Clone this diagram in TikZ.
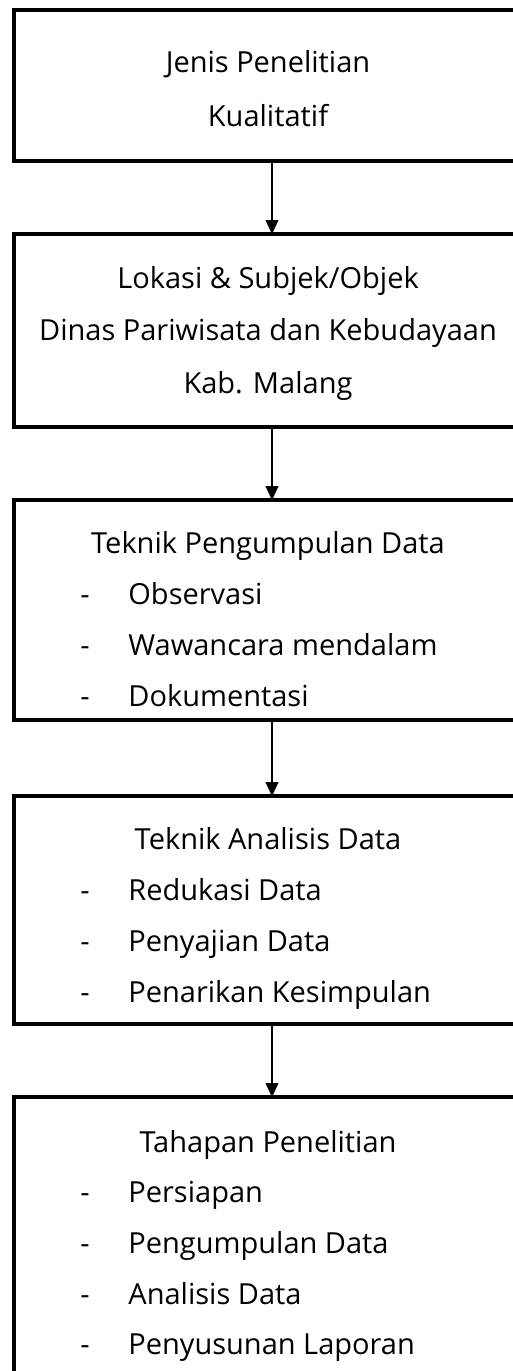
\documentclass[tikz,border=0pt]{standalone}
\usepackage{fontspec}
\setmainfont{Open Sans}
\usetikzlibrary{arrows.meta,positioning,calc}
\tikzset{
	flow chart/.style={x=0.5pt, y=-0.5pt, font=\fontsize{14.5}{17}\selectfont},
	stage/.style={draw, rectangle, line width=1.75pt, outer sep=0pt, inner sep=0pt,
		anchor=north west, minimum width=258pt},
	flow/.style={line width=0.6pt, -{Triangle[width=6.5pt,length=7pt]}},
	title/.style={anchor=base, inner sep=0pt},
	bullet dash/.style={anchor=base west, inner sep=0pt},
	item/.style={anchor=base west, inner sep=0pt}
}

\begin{document}
\begin{tikzpicture}[flow chart]
	\useasboundingbox (0,0) rectangle (513,1371);
	\clip (0,0) rectangle (513,1371);
	% the five stages
	\node[stage, minimum height=75.5pt] (jenis) at (14,10) {};
	\node[stage, minimum height=96.5pt] (lokasi) at (14,234) {};
	\node[stage, minimum height=110pt] (pengumpulan) at (14,500) {};
	\node[stage, minimum height=114pt] (analisis) at (14,796) {};
	\node[stage, minimum height=146.5pt] (tahapan) at (14,1097) {};
	\draw[flow] (jenis) -- (lokasi);
	\draw[flow] (lokasi) -- (pengumpulan);
	\draw[flow] (pengumpulan) -- (analisis);
	\draw[flow] (analisis) -- (tahapan);
	% texts
	\node[title] (jenis1) at (268,72) {Jenis Penelitian};
	\node[title] (jenis2) at (268,126) {Kualitatif};
	\node[title] (lokasi1) at (268,288) {Lokasi \& Subjek/Objek};
	\node[title] (lokasi2) at (268,340) {Dinas Pariwisata dan Kebudayaan};
	\node[title] (lokasi3) at (268,393) {Kab. Malang};
	\node[title] (pengumpulan0) at (268,553) {Teknik Pengumpulan Data};
	\foreach \t [count=\i] in {Observasi, Wawancara mendalam, Dokumentasi} {
		\node[bullet dash] (pengumpulan-d\i) at (80,554+50.7*\i) {-};
		\node[item] (pengumpulan\i) at (128,554+50.7*\i) {\t};
	}
	\node[title] (analisis0) at (268,849) {Teknik Analisis Data};
	\foreach \t [count=\i] in {Redukasi Data, Penyajian Data, Penarikan Kesimpulan} {
		\node[bullet dash] (analisis-d\i) at (80,849+51*\i) {-};
		\node[item] (analisis\i) at (128,849+51*\i) {\t};
	}
	\node[title] (tahapan0) at (268,1152) {Tahapan Penelitian};
	\foreach \t [count=\i] in {Persiapan, Pengumpulan Data, Analisis Data, Penyusunan Laporan} {
		\node[bullet dash] (tahapan-d\i) at (80,1152+50.7*\i) {-};
		\node[item] (tahapan\i) at (128,1152+50.7*\i) {\t};
	}
\end{tikzpicture}
\end{document}
